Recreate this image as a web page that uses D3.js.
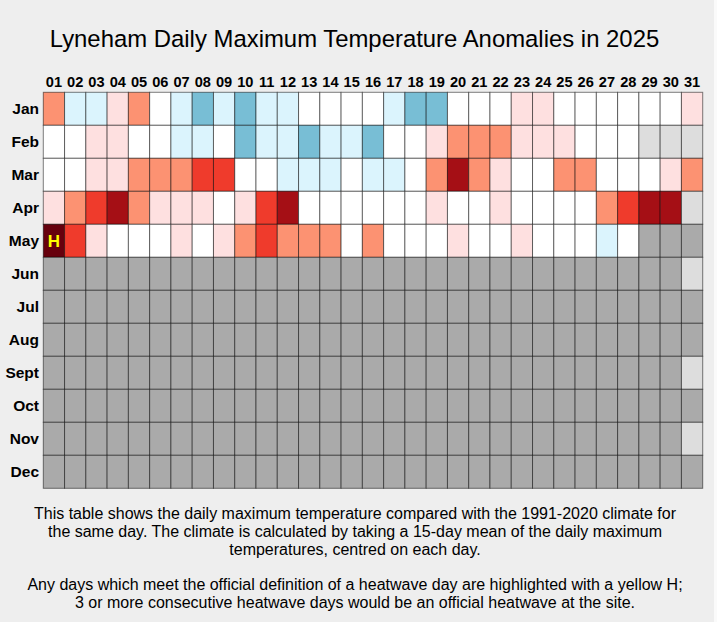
<!DOCTYPE html>
<html>
<head>
<meta charset="utf-8">
<script src="https://cdn.jsdelivr.net/npm/d3@7"></script>
<style>
  html, body { margin: 0; padding: 0; background: #fafafa; }
  svg { display: block; }
</style>
</head>
<body>
<script>
// ---- Data (anomaly class per day; -2 much below ... 5 extreme above) ----
const year = 2025;
const title = "Lyneham Daily Maximum Temperature Anomalies in 2025";
const months = ["Jan","Feb","Mar","Apr","May","Jun","Jul","Aug","Sept","Oct","Nov","Dec"];
const days = d3.range(1, 32);
const dayLabels = days.map(d => String(d).padStart(2, "0"));

const jan = [2,-1,-1,1,2,0,-1,-2,-1,-2,-1,-1,0,0,0,0,-1,-2,-2,0,0,0,1,1,0,0,0,0,0,0,1];
const feb = [0,0,1,1,0,0,-1,-1,0,-2,-1,-1,-2,-1,-1,-2,0,0,1,2,2,2,1,1,1,0,0,0];
const mar = [0,0,1,1,2,2,2,3,3,0,0,-1,-1,-1,0,-1,-1,0,2,4,2,1,0,0,2,2,0,0,0,1,2];
const apr = [1,2,3,4,2,1,1,1,0,1,3,4,0,0,0,0,0,0,1,0,0,1,0,0,0,0,2,3,4,4];
const may = [5,3,1,0,0,0,1,0,1,2,3,2,2,2,0,2,0,0,0,1,0,0,1,0,0,0,-1,0];
const jun = [], jul = [], aug = [], sep = [], oct = [], nov = [], dec = [];
const monthValues = [jan, feb, mar, apr, may, jun, jul, aug, sep, oct, nov, dec];

const classes = [-2, -1, 0, 1, 2, 3, 4, 5];
const classColors = ["#78bed5", "#dbf4fd", "#ffffff", "#fee0e0", "#fc9272", "#ef3b2c", "#a50f15", "#67000d"];
const heatwaveDays = [{ month: "May", day: 1 }];

const footLines = [
  ["This table shows the daily maximum temperature compared with the 1991-2020 climate for",
   "the same day. The climate is calculated by taking a 15-day mean of the daily maximum",
   "temperatures, centred on each day."],
  ["Any days which meet the official definition of a heatwave day are highlighted with a yellow H;",
   "3 or more consecutive heatwave days would be an official heatwave at the site."]
];

// ---- Build cells ----
const cells = [];
months.forEach((m, mi) => {
  const nDays = new Date(year, mi + 1, 0).getDate();
  days.forEach(d => {
    const vals = monthValues[mi];
    let state, v = null;
    if (d > nDays) state = "invalid";
    else if (d <= vals.length) { state = "value"; v = vals[d - 1]; }
    else state = "missing";
    cells.push({ month: m, day: d, state, v });
  });
});

// ---- Drawing ----
const W = 717, H = 622;
const svg = d3.select("body").append("svg").attr("width", W).attr("height", H);
svg.append("rect").attr("width", 714).attr("height", H).attr("fill", "#eeeeee");

const x = d3.scaleBand().domain(days).range([43.3, 702.7]).paddingInner(0);
const y = d3.scaleBand().domain(months).range([92.3, 488.3]).paddingInner(0);
const color = d3.scaleOrdinal().domain(classes).range(classColors);

const font = "'Liberation Sans', Arial, Helvetica, sans-serif";

svg.append("text")
  .attr("x", 354.5).attr("y", 46.5)
  .attr("text-anchor", "middle")
  .attr("font-family", font).attr("font-size", 23.9)
  .attr("fill", "#000")
  .text(title);

svg.append("g").selectAll("rect").data(cells).join("rect")
  .attr("x", d => x(d.day)).attr("y", d => y(d.month))
  .attr("width", x.bandwidth()).attr("height", y.bandwidth())
  .attr("fill", d => d.state === "value" ? color(d.v) : d.state === "missing" ? "#aaaaaa" : "#dddddd")
  .attr("stroke", "rgba(0,0,0,0.5)").attr("stroke-width", 1);

// column headers
svg.append("g").selectAll("text").data(days).join("text")
  .attr("x", d => x(d) + x.bandwidth() / 2).attr("y", 86.8)
  .attr("text-anchor", "middle")
  .attr("font-family", font).attr("font-weight", "bold").attr("font-size", 14.6)
  .text((d, i) => dayLabels[i]);

// row labels
svg.append("g").selectAll("text").data(months).join("text")
  .attr("x", 39).attr("y", d => y(d) + y.bandwidth() / 2 + 5.6)
  .attr("text-anchor", "end")
  .attr("font-family", font).attr("font-weight", "bold").attr("font-size", 15.5)
  .text(d => d);

// heatwave markers
svg.append("g").selectAll("text").data(heatwaveDays).join("text")
  .attr("x", d => x(d.day) + x.bandwidth() / 2)
  .attr("y", d => y(d.month) + y.bandwidth() / 2 + 6)
  .attr("text-anchor", "middle")
  .attr("font-family", font).attr("font-weight", "bold").attr("font-size", 17)
  .attr("fill", "#ffff00")
  .text("H");

// footnotes
const baselines = [[519.3, 537.4, 555.3], [590, 607.7]];
footLines.forEach((para, pi) => {
  svg.append("g").selectAll("text").data(para).join("text")
    .attr("x", 355).attr("y", (d, i) => baselines[pi][i])
    .attr("text-anchor", "middle")
    .attr("font-family", font).attr("font-size", 16)
    .attr("fill", "#000")
    .text(d => d);
});
</script>
</body>
</html>
